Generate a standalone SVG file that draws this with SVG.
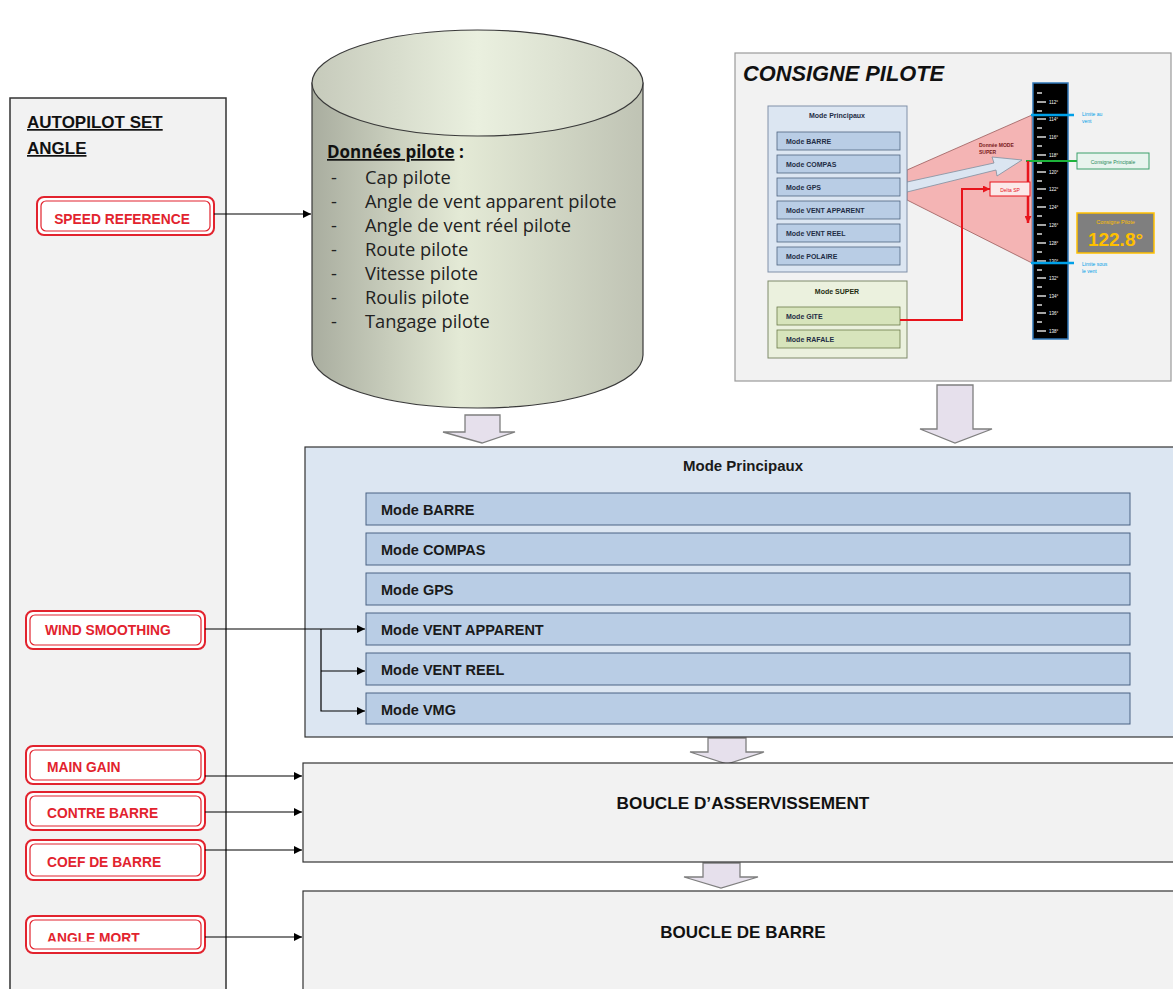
<svg xmlns="http://www.w3.org/2000/svg" width="1173" height="989" viewBox="0 0 1173 989">
<defs>
<style>
.t{font-family:"Liberation Sans",Arial,sans-serif}
.btnO{fill:#fff;stroke:#e2232e;stroke-width:2}
.btnI{fill:none;stroke:#e2232e;stroke-width:1.2}
.btnT{font-family:"Liberation Sans",Arial,sans-serif;font-weight:bold;font-size:13.8px;fill:#e2232e}
.sub{fill:#b9cde5;stroke:#4a6283;stroke-width:1}
.subT{font-family:"Liberation Sans",Arial,sans-serif;font-weight:bold;font-size:14.5px;fill:#1a1a1a}
.blk{fill:#e6e0ec;stroke:#7f7f7f;stroke-width:1.3}
.con{stroke:#000;stroke-width:1.2;fill:none}
.item{font-family:"Open Sans","Liberation Sans",Arial,sans-serif;font-size:18.3px;fill:#222}
.isub{fill:#b9cde5;stroke:#4f6480;stroke-width:0.8}
.isubT{font-family:"Liberation Sans",Arial,sans-serif;font-weight:bold;font-size:7px;fill:#1f2d45}
.gsub{fill:#d7e4bc;stroke:#6b7a4a;stroke-width:0.8}
.tick{stroke:#fff;stroke-width:1.3}
.tickL{font-family:"Liberation Sans",Arial,sans-serif;font-size:4.5px;fill:#fff}
</style>
<marker id="ah" viewBox="0 0 10 10" refX="10" refY="5" markerWidth="8" markerHeight="8" markerUnits="userSpaceOnUse" orient="auto"><path d="M0,0 L10,5 L0,10 Z" fill="#000"/></marker>
<marker id="rh" viewBox="0 0 10 10" refX="10" refY="5" markerWidth="7" markerHeight="7" markerUnits="userSpaceOnUse" orient="auto"><path d="M0,0 L10,5 L0,10 Z" fill="#e8141c"/></marker>
<linearGradient id="cyl" x1="0" y1="0" x2="1" y2="0">
<stop offset="0" stop-color="#a9ad9f"/>
<stop offset="0.45" stop-color="#e4ead6"/>
<stop offset="1" stop-color="#bfc3b4"/>
</linearGradient>
<linearGradient id="cylTop" x1="0" y1="0" x2="1" y2="0">
<stop offset="0" stop-color="#c6cabb"/>
<stop offset="0.5" stop-color="#eaf0df"/>
<stop offset="1" stop-color="#cfd3c4"/>
</linearGradient>
<clipPath id="amClip"><rect x="0" y="900" width="230" height="41.5"/></clipPath>
</defs>
<rect width="1173" height="989" fill="#fff"/>

<!-- Left panel -->
<g id="autopilot-panel">
<rect x="10" y="98" width="216" height="900" fill="#f2f2f2" stroke="#333" stroke-width="1.5"/>
<text class="t" x="27" y="128" font-size="17" font-weight="bold" fill="#111" text-decoration="underline">AUTOPILOT SET</text>
<text class="t" x="27" y="154" font-size="17" font-weight="bold" fill="#111" text-decoration="underline">ANGLE</text>
</g>

<g id="speed-reference">
<rect class="btnO" x="37" y="197" width="177" height="38" rx="7"/>
<rect class="btnI" x="41" y="201" width="169" height="30" rx="5"/>
<text class="btnT" x="122" y="224" text-anchor="middle">SPEED REFERENCE</text>
</g>
<g id="wind-smoothing">
<rect class="btnO" x="26" y="611" width="179" height="38" rx="7"/>
<rect class="btnI" x="30" y="615" width="171" height="30" rx="5"/>
<text class="btnT" x="45" y="635">WIND SMOOTHING</text>
</g>
<g id="main-gain">
<rect class="btnO" x="26" y="746" width="179" height="38" rx="7"/>
<rect class="btnI" x="30" y="750" width="171" height="30" rx="5"/>
<text class="btnT" x="47" y="772">MAIN GAIN</text>
</g>
<g id="contre-barre">
<rect class="btnO" x="26" y="792" width="179" height="38" rx="7"/>
<rect class="btnI" x="30" y="796" width="171" height="30" rx="5"/>
<text class="btnT" x="47" y="818">CONTRE BARRE</text>
</g>
<g id="coef-de-barre">
<rect class="btnO" x="26" y="840" width="179" height="40" rx="7"/>
<rect class="btnI" x="30" y="844" width="171" height="32" rx="5"/>
<text class="btnT" x="47" y="867">COEF DE BARRE</text>
</g>
<g id="angle-mort">
<rect class="btnO" x="26" y="916" width="179" height="37" rx="7"/>
<rect class="btnI" x="30" y="920" width="171" height="29" rx="5"/>
<text class="btnT" x="47" y="943" clip-path="url(#amClip)">ANGLE MORT</text>
</g>

<!-- Cylinder -->
<g id="donnees-pilote">
<path d="M312,83 L312,355 A165.5,53 0 0 0 643,355 L643,83 Z" fill="url(#cyl)" stroke="#3a3a3a" stroke-width="1.2"/>
<ellipse cx="477.5" cy="83" rx="165.5" ry="53" fill="url(#cylTop)" stroke="#3a3a3a" stroke-width="1.2"/>
<text x="327" y="158" font-family="Open Sans, Liberation Sans, Arial, sans-serif" font-size="17" fill="#111"><tspan font-weight="bold" text-decoration="underline">Données pilote</tspan><tspan font-weight="bold"> :</tspan></text>
<g class="item">
<text x="331" y="184">-</text><text x="365" y="184">Cap pilote</text>
<text x="331" y="208">-</text><text x="365" y="208">Angle de vent apparent pilote</text>
<text x="331" y="232">-</text><text x="365" y="232">Angle de vent réel pilote</text>
<text x="331" y="256">-</text><text x="365" y="256">Route pilote</text>
<text x="331" y="280">-</text><text x="365" y="280">Vitesse pilote</text>
<text x="331" y="304">-</text><text x="365" y="304">Roulis pilote</text>
<text x="331" y="328">-</text><text x="365" y="328">Tangage pilote</text>
</g>
</g>

<!-- Consigne pilote inset -->
<g id="consigne-pilote">
<rect x="735" y="53" width="436" height="328" fill="#f2f2f2" stroke="#9a9a9a" stroke-width="1.2"/>
<text class="t" x="743" y="81" font-size="21.8" font-weight="bold" font-style="italic" fill="#111">CONSIGNE PILOTE</text>

<polygon points="907,170 1032,115 1032,263 907,200" fill="#f4b4b4" stroke="#9a5a5a" stroke-width="0.8"/>
<polygon points="907,182 994,163 992,157 1022,160 997,176 996,170 907,192" fill="#dbe5f1" stroke="#7f8fa0" stroke-width="0.8"/>
<text class="t" x="979" y="147" font-size="5" font-weight="bold" fill="#7a2020">Donnée MODE</text>
<text class="t" x="979" y="154" font-size="5" font-weight="bold" fill="#7a2020">SUPER</text>

<rect x="768" y="106" width="139" height="166" fill="#dce6f2" stroke="#8090a8" stroke-width="1"/>
<text class="t" x="837" y="118" font-size="7" font-weight="bold" text-anchor="middle" fill="#1f2d45">Mode Principaux</text>
<rect class="isub" x="777" y="132" width="123" height="18"/><text class="isubT" x="786" y="144">Mode BARRE</text>
<rect class="isub" x="777" y="155" width="123" height="18"/><text class="isubT" x="786" y="167">Mode COMPAS</text>
<rect class="isub" x="777" y="178" width="123" height="18"/><text class="isubT" x="786" y="190">Mode GPS</text>
<rect class="isub" x="777" y="201" width="123" height="18"/><text class="isubT" x="786" y="213">Mode VENT APPARENT</text>
<rect class="isub" x="777" y="224" width="123" height="18"/><text class="isubT" x="786" y="236">Mode VENT REEL</text>
<rect class="isub" x="777" y="247" width="123" height="18"/><text class="isubT" x="786" y="259">Mode POLAIRE</text>

<rect x="768" y="281" width="139" height="77" fill="#ebf1de" stroke="#7f8a6a" stroke-width="1"/>
<text class="t" x="837" y="294" font-size="7" font-weight="bold" text-anchor="middle" fill="#1f2d10">Mode SUPER</text>
<rect class="gsub" x="777" y="307" width="123" height="18"/><text class="isubT" x="786" y="319" fill="#1f2d10">Mode GITE</text>
<rect class="gsub" x="777" y="330" width="123" height="18"/><text class="isubT" x="786" y="342" fill="#1f2d10">Mode RAFALE</text>

<!-- scale -->
<rect x="1033" y="83" width="35" height="256" fill="#000" stroke="#2e75b6" stroke-width="1.5"/>
<g class="tick">
<line x1="1037" y1="93" x2="1042" y2="93"/><line x1="1037" y1="102" x2="1046" y2="102"/>
<line x1="1037" y1="111" x2="1042" y2="111"/><line x1="1037" y1="119" x2="1046" y2="119"/>
<line x1="1037" y1="128" x2="1042" y2="128"/><line x1="1037" y1="137" x2="1046" y2="137"/>
<line x1="1037" y1="146" x2="1042" y2="146"/><line x1="1037" y1="155" x2="1046" y2="155"/>
<line x1="1037" y1="163" x2="1042" y2="163"/><line x1="1037" y1="172" x2="1046" y2="172"/>
<line x1="1037" y1="181" x2="1042" y2="181"/><line x1="1037" y1="189" x2="1046" y2="189"/>
<line x1="1037" y1="198" x2="1042" y2="198"/><line x1="1037" y1="207" x2="1046" y2="207"/>
<line x1="1037" y1="216" x2="1042" y2="216"/><line x1="1037" y1="225" x2="1046" y2="225"/>
<line x1="1037" y1="234" x2="1042" y2="234"/><line x1="1037" y1="243" x2="1046" y2="243"/>
<line x1="1037" y1="252" x2="1042" y2="252"/><line x1="1037" y1="261" x2="1046" y2="261"/>
<line x1="1037" y1="270" x2="1042" y2="270"/><line x1="1037" y1="278" x2="1046" y2="278"/>
<line x1="1037" y1="287" x2="1042" y2="287"/><line x1="1037" y1="296" x2="1046" y2="296"/>
<line x1="1037" y1="305" x2="1042" y2="305"/><line x1="1037" y1="313" x2="1046" y2="313"/>
<line x1="1037" y1="322" x2="1042" y2="322"/><line x1="1037" y1="331" x2="1046" y2="331"/>
</g>
<g class="tickL">
<text x="1049" y="104">112°</text><text x="1049" y="121">114°</text><text x="1049" y="139">116°</text>
<text x="1049" y="157">118°</text><text x="1049" y="174">120°</text><text x="1049" y="191">122°</text>
<text x="1049" y="209">124°</text><text x="1049" y="227">126°</text><text x="1049" y="245">128°</text>
<text x="1049" y="263">130°</text><text x="1049" y="280">132°</text><text x="1049" y="298">134°</text>
<text x="1049" y="315">136°</text><text x="1049" y="333">138°</text>
</g>

<line x1="1031" y1="115" x2="1074" y2="115" stroke="#00a0e8" stroke-width="2.5"/>
<text class="t" x="1082" y="116" font-size="5" fill="#00a0e8">Limite au</text>
<text class="t" x="1082" y="123" font-size="5" fill="#00a0e8">vent</text>
<line x1="1031" y1="263" x2="1074" y2="263" stroke="#00a0e8" stroke-width="2.5"/>
<text class="t" x="1082" y="266" font-size="5" fill="#00a0e8">Limite sous</text>
<text class="t" x="1082" y="273" font-size="5" fill="#00a0e8">le vent</text>

<line x1="1026" y1="161" x2="1077" y2="161" stroke="#1db33a" stroke-width="2.2"/>
<rect x="1077" y="153" width="72" height="16" fill="#e8f4ee" stroke="#3aa06a" stroke-width="1"/>
<text class="t" x="1113" y="163.5" font-size="5" text-anchor="middle" fill="#2a8a5a">Consigne Principale</text>

<line x1="1028" y1="161" x2="1028" y2="223" stroke="#e8141c" stroke-width="2.5" marker-end="url(#rh)"/>
<polyline points="900,320 962,320 962,189 990,189" fill="none" stroke="#e8141c" stroke-width="2" marker-end="url(#rh)"/>
<rect x="990" y="182" width="40" height="14" fill="#fbe9e9" stroke="#e8141c" stroke-width="1"/>
<text class="t" x="1010" y="191.5" font-size="5" text-anchor="middle" fill="#e8141c">Delta SP</text>

<rect x="1077" y="213" width="77" height="40" fill="#7f7f7f" stroke="#ffc000" stroke-width="1.5"/>
<text class="t" x="1115.5" y="224" font-size="5.5" text-anchor="middle" fill="#ffc000">Consigne Pilote</text>
<text class="t" x="1115.5" y="246" font-size="19" font-weight="bold" text-anchor="middle" fill="#ffc000">122.8°</text>
</g>

<!-- Block arrows -->
<g id="block-arrows">
<path class="blk" d="M465,415 H500 V432 H515 L482,443 L443,432 H465 Z"/>
<path class="blk" d="M937,385 H973 V429 H992 L955,443 L920,429 H937 Z"/>
<path class="blk" d="M708,738 H746 V752 H764 L727,764 L690,752 H708 Z"/>
<path class="blk" d="M703,863 H740 V877 H758 L721,888 L684,877 H703 Z"/>
</g>

<!-- Mode Principaux main -->
<g id="mode-principaux">
<rect x="305" y="447" width="870" height="290" fill="#dce6f2" stroke="#333" stroke-width="1.2"/>
<text class="t" x="743" y="471" font-size="15" font-weight="bold" text-anchor="middle" fill="#1a1a1a">Mode Principaux</text>
<rect class="sub" x="366" y="493" width="764" height="32"/><text class="subT" x="381" y="515">Mode BARRE</text>
<rect class="sub" x="366" y="533" width="764" height="32"/><text class="subT" x="381" y="555">Mode COMPAS</text>
<rect class="sub" x="366" y="573" width="764" height="32"/><text class="subT" x="381" y="595">Mode GPS</text>
<rect class="sub" x="366" y="613" width="764" height="32"/><text class="subT" x="381" y="635">Mode VENT APPARENT</text>
<rect class="sub" x="366" y="653" width="764" height="32"/><text class="subT" x="381" y="675">Mode VENT REEL</text>
<rect class="sub" x="366" y="693" width="764" height="31"/><text class="subT" x="381" y="715">Mode VMG</text>
</g>

<g id="boucle-asservissement">
<rect x="303" y="763" width="872" height="99" fill="#f2f2f2" stroke="#333" stroke-width="1.2"/>
<text class="t" x="743" y="809" font-size="17.2" font-weight="bold" text-anchor="middle" fill="#111">BOUCLE D’ASSERVISSEMENT</text>
</g>

<g id="boucle-barre">
<rect x="303" y="891" width="872" height="110" fill="#f2f2f2" stroke="#333" stroke-width="1.2"/>
<text class="t" x="743" y="938" font-size="17" font-weight="bold" text-anchor="middle" fill="#111">BOUCLE DE BARRE</text>
</g>

<!-- Connectors -->
<g id="connectors">
<line class="con" x1="214" y1="214" x2="311" y2="214" marker-end="url(#ah)"/>
<line class="con" x1="205" y1="629" x2="365" y2="629" marker-end="url(#ah)"/>
<polyline class="con" points="321,629 321,711 365,711" marker-end="url(#ah)"/>
<line class="con" x1="321" y1="671" x2="365" y2="671" marker-end="url(#ah)"/>
<line class="con" x1="205" y1="776" x2="302" y2="776" marker-end="url(#ah)"/>
<line class="con" x1="205" y1="812" x2="302" y2="812" marker-end="url(#ah)"/>
<line class="con" x1="205" y1="850" x2="302" y2="850" marker-end="url(#ah)"/>
<line class="con" x1="205" y1="937" x2="302" y2="937" marker-end="url(#ah)"/>
</g>
</svg>
